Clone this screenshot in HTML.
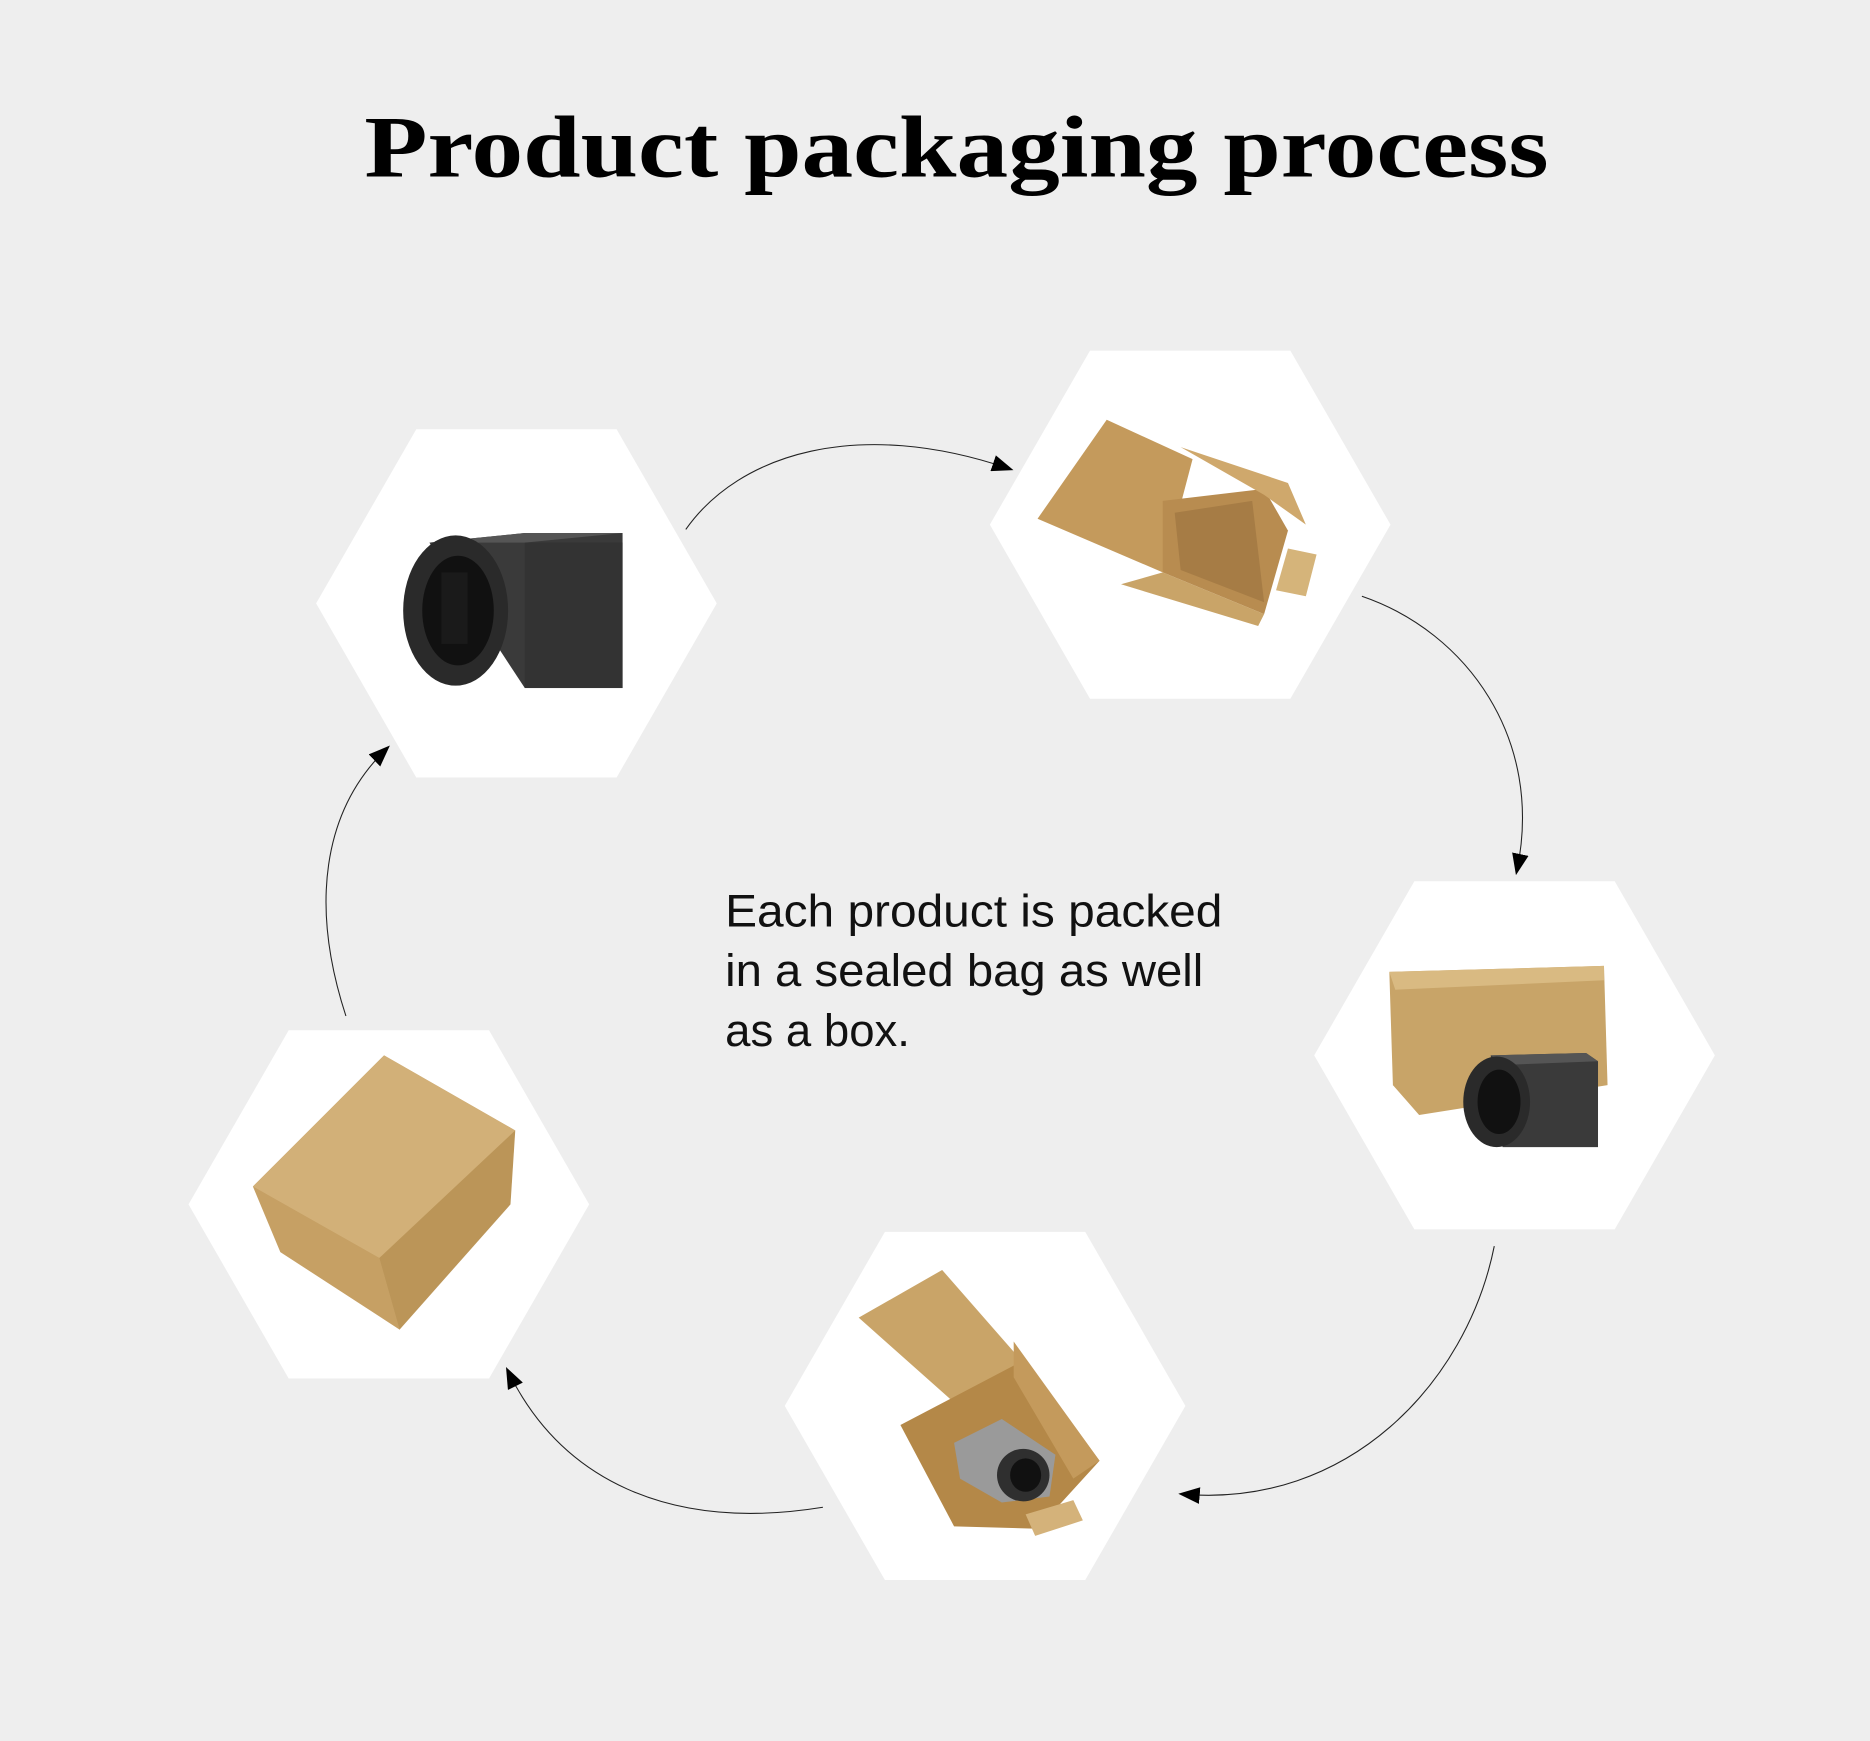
<!DOCTYPE html>
<html><head><meta charset="utf-8"><style>
html,body{margin:0;padding:0;background:#eeeeee;}
svg{display:block;}
</style></head><body>
<svg width="1870" height="1741" viewBox="0 0 1568 1460" xmlns="http://www.w3.org/2000/svg">
<defs>
<marker id="ah" markerWidth="18" markerHeight="14" refX="14" refY="7" orient="auto" markerUnits="userSpaceOnUse">
<path d="M0,0 L18,7 L0,14 z" fill="#000"/>
</marker>
<g id="hex"><polygon points="-168,0 -84,-146 84,-146 168,0 84,146 -84,146" fill="#fff"/></g>
</defs>
<rect width="1568" height="1460" fill="#eeeeee"/>
<text x="802" y="148" text-anchor="middle" font-family="Liberation Serif, serif" font-weight="bold" font-size="74" textLength="993" lengthAdjust="spacingAndGlyphs" fill="#000">Product packaging process</text>

<use href="#hex" x="433" y="506"/>
<use href="#hex" x="998" y="440"/>
<use href="#hex" x="1270" y="885"/>
<use href="#hex" x="826" y="1179"/>
<use href="#hex" x="326" y="1010"/>

<g fill="none" stroke="#222" stroke-width="0.9">
<path d="M575,444 C620,380 720,350 846,393" marker-end="url(#ah)"/>
<path d="M1142,500 C1230,530 1295,620 1272,730" marker-end="url(#ah)"/>
<path d="M1253,1045 C1230,1160 1130,1265 992,1253" marker-end="url(#ah)"/>
<path d="M690,1264 C560,1285 470,1240 426,1150" marker-end="url(#ah)"/>
<path d="M290,852 C260,760 270,680 324,628" marker-end="url(#ah)"/>
</g>

<!-- hex1 camera -->
<polygon points="360,455 440,447 522,447 522,577 440,577" fill="#3a3a3a"/>
<polygon points="360,455 440,447 522,447 440,455" fill="#555"/>
<rect x="440" y="455" width="82" height="122" fill="#333"/>
<ellipse cx="382" cy="512" rx="44" ry="63" fill="#2a2a2a"/>
<ellipse cx="384" cy="512" rx="30" ry="46" fill="#111"/>
<rect x="370" y="480" width="22" height="60" fill="#1a1a1a"/>

<!-- hex2 open box -->
<polygon points="870,435 928,352 1000,385 975,480" fill="#c49a5c"/>
<polygon points="975,420 1060,410 1080,445 1060,515 975,480" fill="#b88c50"/>
<polygon points="985,430 1050,420 1060,505 990,478" fill="#a67c45"/>
<polygon points="940,490 975,480 1060,515 1055,525" fill="#c9a468"/>
<polygon points="990,375 1080,405 1095,440 1060,415" fill="#cfa86c"/>
<polygon points="1080,460 1104,465 1095,500 1070,495" fill="#d5b47a"/>

<!-- hex3 box + camera -->
<polygon points="1165,815 1345,810 1348,910 1190,935 1168,910" fill="#c8a468"/>
<polygon points="1165,815 1345,810 1345,822 1170,830" fill="#d9ba82"/>
<polygon points="1250,885 1330,883 1340,890 1340,962 1260,962" fill="#3a3a3a"/>
<polygon points="1250,885 1330,883 1340,890 1262,893" fill="#555"/>
<ellipse cx="1255" cy="924" rx="28" ry="38" fill="#2a2a2a"/>
<ellipse cx="1257" cy="924" rx="18" ry="27" fill="#111"/>

<!-- hex4 -->
<polygon points="720,1105 790,1065 860,1145 810,1185" fill="#c9a468"/>
<polygon points="755,1195 860,1140 922,1225 870,1282 800,1280" fill="#b48848"/>
<polygon points="850,1125 922,1225 900,1240 850,1155" fill="#c49a5c"/>
<polygon points="800,1210 840,1190 885,1220 880,1255 840,1260 805,1240" fill="#9a9a9a"/>
<ellipse cx="858" cy="1237" rx="22" ry="22" fill="#2f2f2f"/>
<ellipse cx="860" cy="1237" rx="13" ry="14" fill="#111"/>
<polygon points="860,1270 900,1258 908,1275 868,1288" fill="#d4b27a"/>

<!-- hex5 closed box -->
<polygon points="212,995 322,885 432,948 335,1115" fill="#c4a06a"/>
<polygon points="212,995 322,885 432,948 318,1055" fill="#d2b078"/>
<polygon points="318,1055 432,948 428,1010 335,1115" fill="#bb9558"/>
<polygon points="212,995 318,1055 335,1115 235,1050" fill="#c6a064"/>

<g font-family="Liberation Sans, sans-serif" font-size="38" fill="#111">
<text x="608" y="777" textLength="417" lengthAdjust="spacingAndGlyphs">Each product is packed</text>
<text x="608" y="827" textLength="401" lengthAdjust="spacingAndGlyphs">in a sealed bag as well</text>
<text x="608" y="877" textLength="155" lengthAdjust="spacingAndGlyphs">as a box.</text>
</g>
</svg>
</body></html>
